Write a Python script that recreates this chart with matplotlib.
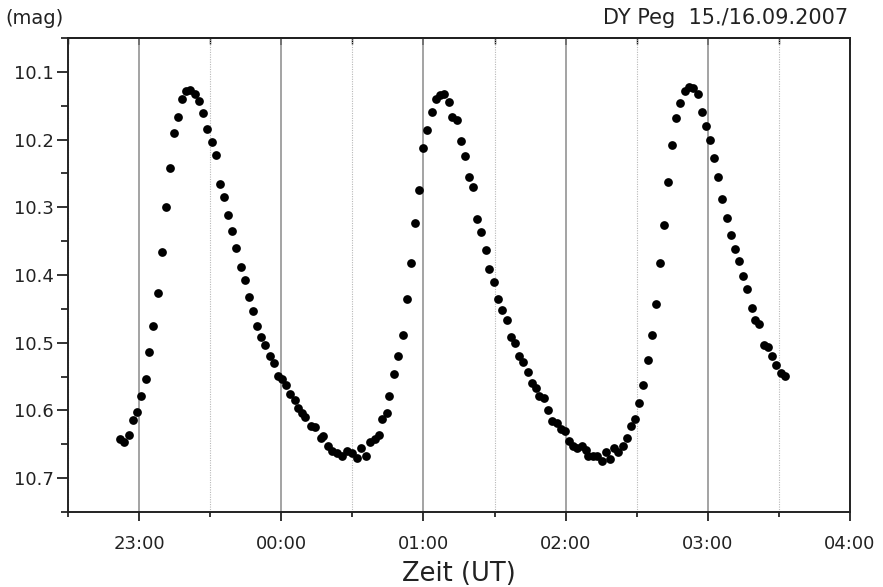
import matplotlib
matplotlib.use("Agg")
import matplotlib.pyplot as plt
from matplotlib.ticker import MultipleLocator, FuncFormatter

# Time in UT hours (values > 24 are after midnight, 16.09.2007)
time_ut = [
    22.866, 22.896, 22.929, 22.955, 22.985, 23.015, 23.046, 23.072, 23.100, 23.131,
    23.159, 23.189, 23.217, 23.248, 23.276, 23.304, 23.330, 23.358, 23.395, 23.423,
    23.451, 23.480, 23.513, 23.539, 23.569, 23.597, 23.625, 23.655, 23.684, 23.714,
    23.743, 23.773, 23.801, 23.831, 23.859, 23.888, 23.918, 23.947, 23.975, 24.005,
    24.033, 24.061, 24.096, 24.120, 24.143, 24.167, 24.207, 24.237, 24.277, 24.295,
    24.331, 24.354, 24.390, 24.425, 24.464, 24.495, 24.530, 24.558, 24.596, 24.624,
    24.659, 24.689, 24.708, 24.741, 24.760, 24.793, 24.823, 24.854, 24.882, 24.912,
    24.940, 24.971, 24.999, 25.027, 25.058, 25.086, 25.116, 25.144, 25.177, 25.203,
    25.233, 25.262, 25.290, 25.320, 25.348, 25.378, 25.406, 25.437, 25.459, 25.496,
    25.526, 25.554, 25.585, 25.613, 25.641, 25.672, 25.698, 25.733, 25.761, 25.789,
    25.814, 25.847, 25.878, 25.906, 25.937, 25.965, 25.995, 26.023, 26.053, 26.082,
    26.113, 26.141, 26.159, 26.194, 26.222, 26.253, 26.283, 26.312, 26.342, 26.370,
    26.401, 26.429, 26.457, 26.487, 26.518, 26.546, 26.577, 26.605, 26.635, 26.663,
    26.693, 26.722, 26.750, 26.778, 26.804, 26.839, 26.869, 26.897, 26.928, 26.956,
    26.987, 27.015, 27.043, 27.073, 27.101, 27.132, 27.160, 27.189, 27.219, 27.249,
    27.277, 27.308, 27.333, 27.361, 27.395, 27.425, 27.453, 27.481, 27.512, 27.542,
]

mag = [
    10.642, 10.647, 10.636, 10.614, 10.603, 10.578, 10.553, 10.514, 10.475, 10.427,
    10.366, 10.299, 10.242, 10.190, 10.167, 10.140, 10.129, 10.127, 10.132, 10.143,
    10.161, 10.184, 10.204, 10.223, 10.266, 10.285, 10.312, 10.335, 10.360, 10.388,
    10.407, 10.433, 10.453, 10.475, 10.491, 10.503, 10.520, 10.530, 10.549, 10.553,
    10.563, 10.575, 10.584, 10.596, 10.604, 10.609, 10.623, 10.624, 10.640, 10.638,
    10.653, 10.660, 10.663, 10.668, 10.660, 10.663, 10.670, 10.655, 10.667, 10.647,
    10.642, 10.637, 10.613, 10.604, 10.578, 10.546, 10.519, 10.488, 10.435, 10.383,
    10.323, 10.274, 10.213, 10.186, 10.159, 10.140, 10.134, 10.132, 10.145, 10.167,
    10.171, 10.202, 10.224, 10.255, 10.270, 10.317, 10.336, 10.363, 10.391, 10.410,
    10.435, 10.451, 10.466, 10.491, 10.501, 10.520, 10.529, 10.543, 10.559, 10.567,
    10.579, 10.581, 10.599, 10.615, 10.618, 10.628, 10.631, 10.645, 10.652, 10.655,
    10.653, 10.659, 10.668, 10.668, 10.668, 10.675, 10.662, 10.671, 10.655, 10.662,
    10.652, 10.640, 10.623, 10.612, 10.589, 10.563, 10.526, 10.488, 10.443, 10.383,
    10.326, 10.262, 10.208, 10.168, 10.146, 10.129, 10.123, 10.124, 10.133, 10.159,
    10.180, 10.200, 10.227, 10.255, 10.288, 10.316, 10.341, 10.361, 10.379, 10.402,
    10.421, 10.449, 10.466, 10.473, 10.503, 10.506, 10.519, 10.533, 10.545, 10.549,
]

y_label = "(mag)"
title_text = "DY Peg  15./16.09.2007"
x_label = "Zeit (UT)"

plt.rcParams['font.family'] = ['DejaVu Sans']

fig = plt.figure(figsize=(8.83, 5.87), dpi=100)
ax = fig.add_axes([68 / 883, 1 - 512 / 587, (850 - 68) / 883, (512 - 38) / 587])

ax.set_xlim(22.5, 28.0)
ax.set_ylim(10.75, 10.05)

ax.xaxis.set_major_locator(MultipleLocator(1.0))
ax.xaxis.set_minor_locator(MultipleLocator(0.5))
ax.yaxis.set_major_locator(MultipleLocator(0.1))
ax.yaxis.set_minor_locator(MultipleLocator(0.05))
ax.xaxis.set_major_formatter(FuncFormatter(lambda v, p: "%02d:00" % (int(round(v)) % 24)))
ax.yaxis.set_major_formatter(FuncFormatter(lambda v, p: "%.1f" % v))

# vertical grid
ax.grid(True, axis='x', which='major', color='#8a8a8a', linestyle='-', linewidth=1.1, zorder=0)
ax.grid(True, axis='x', which='minor', color='#b8b8b8', linestyle=(0, (1, 1.2)), linewidth=0.8, zorder=0)
ax.grid(False, axis='y')

ax.plot(time_ut, mag, linestyle='none', marker='o', markersize=6.3,
        markerfacecolor='black', markeredgewidth=0, color='black', zorder=3)

for s in ax.spines.values():
    s.set_linewidth(1.4)
    s.set_color('#222222')

ax.tick_params(axis='x', which='major', direction='out', length=6.5, width=1.3,
               labelsize=13, pad=10, colors='#222222')
ax.tick_params(axis='x', which='minor', direction='out', length=3.5, width=1.1)
ax.tick_params(axis='y', which='major', direction='out', length=8, width=1.3,
               labelsize=13, pad=2.5, colors='#222222')
ax.tick_params(axis='y', which='minor', direction='out', length=5, width=1.1)

# top inward ticks
sec = ax.secondary_xaxis('top')
sec.xaxis.set_major_locator(MultipleLocator(1.0))
sec.xaxis.set_minor_locator(MultipleLocator(0.5))
sec.tick_params(axis='x', which='major', direction='in', length=5, width=1.2, labeltop=False)
sec.tick_params(axis='x', which='minor', direction='in', length=4, width=1.0)
sec.spines['top'].set_linewidth(1.4)

ax.set_xlabel(x_label, fontsize=18.5, color='#222222')
ax.xaxis.set_label_coords(0.5, -0.104)

fig.text(5 / 883, 1 - 18 / 587, y_label, fontsize=14, ha='left', va='center', color='#222222')
fig.text(848 / 883, 1 - 18 / 587, title_text, fontsize=15, ha='right', va='center', color='#222222')

fig.savefig("out.png", dpi=100)
